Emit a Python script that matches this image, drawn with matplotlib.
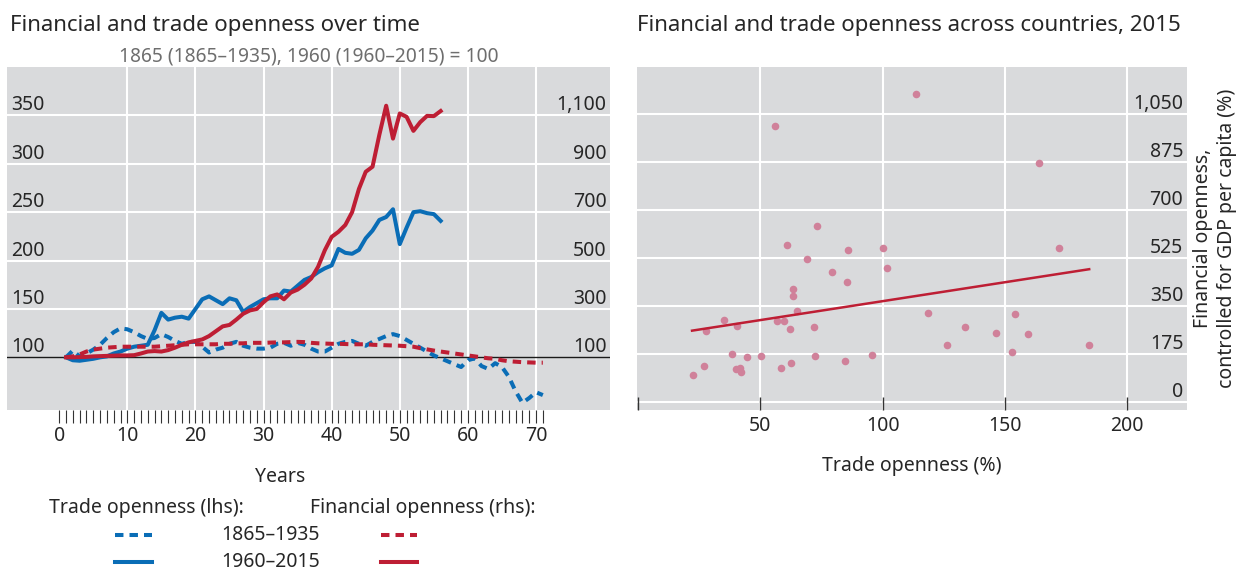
import numpy as np
import matplotlib
matplotlib.use('Agg')
import matplotlib.pyplot as plt
from matplotlib.lines import Line2D
from matplotlib.transforms import offset_copy

plt.rcParams['font.family'] = ['Noto Sans', 'DejaVu Sans']

# ---------------- data ----------------
years_1865 = list(range(1, 72))      # years since 1865 (1865-1935)
years_1960 = list(range(1, 57))      # years since 1960 (1960-2015)

trade_1865 = [100, 107, 101, 104, 108, 113, 120, 126, 130, 129, 126, 122, 119, 120, 124,
              121, 117, 114, 116, 116, 111, 105, 108, 110, 114, 116, 112, 110, 109, 109,
              110, 114, 115, 112, 115, 113, 109, 106, 106, 110, 114, 116, 117, 114, 112,
              116, 119, 122, 124, 122, 118, 114, 110, 106, 102, 99, 96, 93, 90, 97,
              99, 91, 88, 94, 90, 80, 65, 53, 58, 64, 61]
trade_1960 = [100, 97, 96.5, 97.5, 98.5, 100, 101, 104, 106, 109, 111, 112, 113, 128, 146,
              139, 141, 142, 140, 150, 160, 163, 159, 155, 161, 159, 147, 152, 156, 160,
              161, 161, 169, 168, 174, 180, 183, 188, 192, 195, 212, 208, 207, 211, 223,
              231, 242, 245, 253, 217, 234, 250, 251, 249, 248, 241]
fin_1865 = [100, 104, 112, 124, 132, 136, 140, 142, 144, 144, 144, 144, 144, 144, 146,
            148, 150, 152, 154, 154, 154, 154, 154, 156, 156, 158, 158, 160, 160, 160,
            161, 162, 162, 163, 164, 163, 160, 158, 157, 156, 156, 155, 154, 154, 154,
            152, 151, 150, 149, 148, 146, 144, 138, 133, 128, 124, 120, 116, 112, 108,
            104, 100, 96, 94, 88, 84, 82, 80, 79, 78, 78]
fin_1960 = [100, 100, 101, 102, 104, 105, 106, 107, 108, 108, 109, 116, 124, 126, 124,
            130, 140, 152, 162, 168, 174, 188, 208, 228, 234, 256, 280, 294, 300, 328,
            352, 360, 340, 368, 380, 400, 426, 474, 543, 598, 619, 647, 700, 796, 867,
            888, 1020, 1140, 1004, 1108, 1094, 1036, 1072, 1098, 1097, 1118]

left_ticks = [100, 150, 200, 250, 300, 350]
right_ticks = [100, 300, 500, 700, 900, 1100]
year_ticks = [0, 10, 20, 30, 40, 50, 60, 70]

trade_open_2015 = [113.6, 55.9, 73.2, 61.0, 85.9, 100.1, 69.0, 101.6, 79.4, 85.5, 63.3, 63.3,
                   65.1, 118.7, 35.2, 27.6, 40.5, 56.6, 59.6, 62.1, 72.0, 38.5, 44.5, 50.2,
                   72.4, 95.6, 26.9, 22.5, 40.0, 41.6, 42.1, 58.4, 62.6, 84.4, 163.8, 172.3,
                   154.0, 133.7, 146.4, 159.3, 126.4, 152.9, 184.3]
fin_open_2015 = [1123, 1005, 642, 574, 555, 560, 521, 490, 472, 439, 413, 388, 333, 323, 300,
                 259, 278, 295, 295, 265, 275, 175, 165, 169, 169, 173, 132, 97, 122, 123,
                 108, 125, 143, 148, 872, 563, 322, 273, 253, 248, 207, 182, 207]
fit_x = [22, 184.5]
fit_y = [260, 484]
scatter_xticks = [0, 50, 100, 150, 200]
scatter_yticks = [0, 175, 350, 525, 700, 875, 1050]

# ---------------- style ----------------
W, H = 1240, 572
fig = plt.figure(figsize=(W / 100, H / 100), dpi=100)


def fx(px):
    return px / W


def fy(py):
    return 1 - py / H


BG = '#d9dadc'
BLUE = '#0a6db6'
RED = '#be1e34'
PINK = '#d0819a'
TXT = '#262626'
FS = 14
LW = 2.9
DASH = (2.1, 1.5)

# ---------------- left panel ----------------
axL = fig.add_axes([fx(7.3), fy(410), fx(610) - fx(7.3), fy(67) - fy(410)])
axL.set_facecolor(BG)
for s in axL.spines.values():
    s.set_visible(False)
axL.set_xlim(-7.62, 80.86)
axL.set_ylim(45.6, 400)

axR2 = axL.twinx()
axR2.set_ylim(4 * 45.6 - 300, 4 * 400 - 300)
for s in axR2.spines.values():
    s.set_visible(False)

for v in left_ticks[1:]:
    axL.axhline(v, color='white', lw=1.5, zorder=1)
for v in year_ticks[1:]:
    axL.axvline(v, color='white', lw=1.5, zorder=1)
axL.axhline(100, color='#1a1a1a', lw=1.0, zorder=2)

axL.set_xticks(year_ticks)
axL.set_xticklabels([str(v) for v in year_ticks])
axL.set_xticks(range(0, 72), minor=True)
axL.tick_params(axis='x', which='both', direction='out', length=9.4, width=0.8,
                color='#333333', labelsize=FS, labelcolor=TXT, pad=2)
axL.tick_params(axis='y', which='both', left=False, right=False,
                labelleft=False, labelright=False)
axR2.tick_params(axis='y', which='both', left=False, right=False,
                 labelleft=False, labelright=False)

axL.plot(years_1865, trade_1865, color=BLUE, lw=LW, dashes=DASH, zorder=3)
axL.plot(years_1960, trade_1960, color=BLUE, lw=LW, zorder=3, solid_joinstyle='round')
axR2.plot(years_1865, fin_1865, color=RED, lw=LW, dashes=DASH, zorder=3)
axR2.plot(years_1960, fin_1960, color=RED, lw=LW, zorder=3, solid_joinstyle='round')

trL = offset_copy(axL.get_yaxis_transform(), fig=fig, y=5, units='dots')
for v in left_ticks:
    axL.text(0.0066, v, f'{v:,}', transform=trL, ha='left', va='baseline',
             fontsize=FS, color=TXT)
trR = offset_copy(axR2.get_yaxis_transform(), fig=fig, y=5, units='dots')
for v in right_ticks:
    axR2.text(0.9945, v, f'{v:,}', transform=trR, ha='right', va='baseline',
              fontsize=FS, color=TXT)

trY = offset_copy(axL.get_xaxis_transform(), fig=fig, y=-71.7, units='dots')
axL.text(32.5, 0, 'Years', transform=trY, ha='center', va='baseline',
         fontsize=FS, color=TXT)

# ---------------- right panel ----------------
axS = fig.add_axes([fx(637.3), fy(410), fx(1186.7) - fx(637.3), fy(67) - fy(410)])
axS.set_facecolor(BG)
for s in axS.spines.values():
    s.set_visible(False)
axS.set_xlim(-0.4, 224.4)
axS.set_ylim(-29.2, 1221)
for v in scatter_yticks:
    axS.axhline(v, color='white', lw=1.5, zorder=1)
for v in scatter_xticks[1:]:
    axS.axvline(v, color='white', lw=1.5, zorder=1)
axS.set_xticks(scatter_xticks)
axS.set_xticklabels([''] + [str(v) for v in scatter_xticks[1:]])
axS.tick_params(axis='x', direction='in', length=9.4, width=1.0, color='#333333',
                labelsize=FS, labelcolor=TXT, pad=4)
axS.tick_params(axis='y', left=False, labelleft=False)

axS.scatter(trade_open_2015, fin_open_2015, s=30, color=PINK, linewidths=0, zorder=3)
axS.plot(fit_x, fit_y, color=RED, lw=1.8, zorder=4)

trS = offset_copy(axS.get_yaxis_transform(), fig=fig, y=5, units='dots')
for v in scatter_yticks:
    axS.text(0.9938, v, f'{v:,}', transform=trS, ha='right', va='baseline',
             fontsize=FS, color=TXT)

axS.set_xlabel('Trade openness (%)', fontsize=FS, color=TXT, labelpad=15)

fig.text(fx(1215), fy(238), 'Financial openness,\ncontrolled for GDP per capita (%)',
         rotation=90, ha='center', va='center', multialignment='center',
         fontsize=FS, color=TXT, linespacing=1.3)

# ---------------- titles ----------------
fig.text(fx(10), fy(31), 'Financial and trade openness over time', fontsize=16,
         color=TXT, va='baseline', ha='left')
fig.text(fx(308.6), fy(62), '1865 (1865–1935), 1960 (1960–2015) = 100', fontsize=13.8,
         color='#6e6e6e', va='baseline', ha='center')
fig.text(fx(637), fy(31), 'Financial and trade openness across countries, 2015',
         fontsize=16, color=TXT, va='baseline', ha='left')

# ---------------- legend ----------------
fig.text(fx(49.4), fy(508), 'Trade openness (lhs):', fontsize=FS, color=TXT,
         va='center', ha='left')
fig.text(fx(309.5), fy(508), 'Financial openness (rhs):', fontsize=FS, color=TXT,
         va='center', ha='left')
fig.text(fx(271), fy(535), '1865–1935', fontsize=FS, color=TXT, va='center', ha='center')
fig.text(fx(271), fy(561.7), '1960–2015', fontsize=FS, color=TXT, va='center', ha='center')
for (x0, x1, y, col, dashed) in [(115.4, 152, 535, BLUE, True), (380.6, 417, 535, RED, True),
                                 (115.4, 152, 561.7, BLUE, False), (380.6, 417, 561.7, RED, False)]:
    ln = Line2D([fx(x0), fx(x1)], [fy(y), fy(y)], transform=fig.transFigure, color=col, lw=LW)
    if dashed:
        ln.set_dashes(DASH)
    fig.add_artist(ln)

fig.savefig('out.png', dpi=100)
